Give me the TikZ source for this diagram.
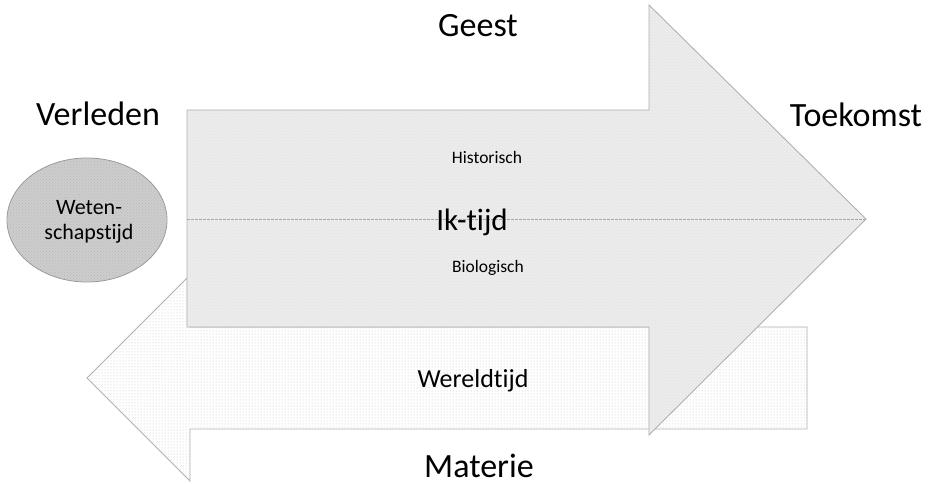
\documentclass[tikz,border=0pt]{standalone}
\usepackage{fontspec}
\setmainfont{Carlito}[Ligatures={NoCommon}]
\usetikzlibrary{patterns,shapes.geometric}
\definecolor{edgegray}{HTML}{B0B0B0}
\definecolor{arrowfill}{HTML}{ECECEC}
\definecolor{ovalfill}{HTML}{CDCDCD}
\definecolor{ovaledge}{HTML}{9A9A9A}
\tikzset{
  shapeedge/.style={draw=edgegray, line width=0.9pt, line join=miter},
  bigtext/.style={font=\fontsize{34}{40}\selectfont, anchor=base, inner sep=0pt},
  midtext/.style={font=\fontsize{26}{30}\selectfont, anchor=base, inner sep=0pt},
  smalltext/.style={font=\fontsize{17.5}{20}\selectfont, anchor=base, inner sep=0pt},
  iktext/.style={font=\fontsize{31}{36}\selectfont, anchor=base, inner sep=0pt},
}
\begin{document}
\begin{tikzpicture}[x=1pt, y=-1pt]
\useasboundingbox (0,0) rectangle (931,484);

% lower arrow (pointing left): Wereldtijd
\fill[white] (807,327) -- (190,327) -- (190,275) -- (87,378) -- (190,481)
  -- (190,429) -- (807,429) -- cycle;
\fill[pattern=dots, pattern color=gray!45] (807,327) -- (190,327) -- (190,275)
  -- (87,378) -- (190,481) -- (190,429) -- (807,429) -- cycle;
\draw[shapeedge] (807,327) -- (190,327) -- (190,275) -- (87,378) -- (190,481)
  -- (190,429) -- (807,429) -- cycle;

% upper arrow (pointing right): Ik-tijd
\coordinate (bodyL) at (187,219);
\coordinate (tip) at (866,219);
\fill[arrowfill] (187,110) -- (649,110) -- (649,5) -- (tip) -- (649,435)
  -- (649,327) -- (187,327) -- cycle;
\fill[pattern=crosshatch dots, pattern color=gray!22] (187,110) -- (649,110)
  -- (649,5) -- (tip) -- (649,435) -- (649,327) -- (187,327) -- cycle;
\draw[shapeedge] (187,110) -- (649,110) -- (649,5) -- (tip) -- (649,435)
  -- (649,327) -- (187,327) -- cycle;

% dividing line between historical and biological time
\draw[gray!70, dashed, line width=0.6pt, dash pattern=on 2.5pt off 1.5pt] (bodyL) -- (tip);

% oval: Wetenschapstijd
\node (wet) [ellipse, draw=ovaledge, line width=0.8pt, fill=ovalfill,
  minimum width=160pt, minimum height=124pt, inner sep=0pt] at (87,220) {};
\fill[pattern=crosshatch dots, pattern color=gray!55]
  (wet.center) ellipse [x radius=79.5, y radius=61.5];
\node[align=center, font=\fontsize{22}{25}\selectfont, inner sep=0pt]
  (wettext) at (89,222) {Weten-\\schapstijd};

% labels
\node[bigtext] (geest) at (478,37) {Geest};
\node[bigtext] (verleden) at (98,125) {Verleden};
\node[bigtext] (toekomst) at (856,127) {Toekomst};
\node[bigtext] (materie) at (479,477) {Materie};
\node[midtext] (wereld) at (473,387) {Wereldtijd};
\node[smalltext] (hist) at (487,163) {Historisch};
\node[smalltext] (bio) at (488,272) {Biologisch};
\node[iktext] (ik) at (472,230) {Ik-tijd};
\end{tikzpicture}
\end{document}
